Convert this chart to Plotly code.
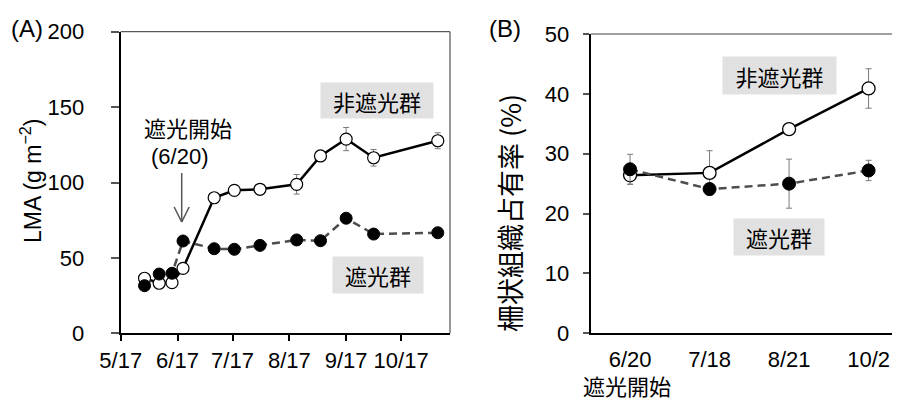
import plotly.graph_objects as go

# ---------- data ----------
# Panel A: LMA time course
dates_a = ["2016-05-30", "2016-06-07", "2016-06-14", "2016-06-20", "2016-07-07", "2016-07-18",
           "2016-08-01", "2016-08-21", "2016-09-03", "2016-09-17", "2016-10-02", "2016-11-06"]
lma_open = [36.5, 33.2, 33.6, 43.1, 89.9, 94.8, 95.5, 98.8, 117.6, 128.8, 116.4, 127.7]
lma_open_err = [1.5, 1.0, 1.0, 1.5, 1.5, 2.0, 3.0, 6.5, 1.5, 7.7, 5.5, 5.3]
lma_filled = [31.6, 39.3, 39.8, 61.2, 56.1, 55.7, 58.3, 61.9, 61.4, 76.3, 65.8, 66.7]
lma_filled_err = [1.0, 1.5, 1.5, 1.5, 1.5, 1.0, 1.5, 2.0, 1.5, 3.0, 1.5, 1.0]
ticks_a = ["2016-05-17", "2016-06-17", "2016-07-17", "2016-08-17", "2016-09-17", "2016-10-17"]
ticklabels_a = ["5/17", "6/17", "7/17", "8/17", "9/17", "10/17"]

# Panel B: palisade ratio
cats_b = ["6/20", "7/18", "8/21", "10/2"]
pal_open = [26.4, 26.8, 34.1, 40.9]
pal_open_err = [1.5, 3.7, 0.5, 3.3]
pal_filled = [27.4, 24.1, 25.0, 27.2]
pal_filled_err = [2.5, 0.9, 4.1, 1.7]

FONT = "Liberation Sans, Arial, Noto Sans CJK JP, sans-serif"
CJK = "Noto Sans CJK JP, Liberation Sans, sans-serif"
ERRC = "#7a7a7a"
TICK = 22

fig = go.Figure()

# Panel A traces
fig.add_trace(go.Scatter(
    x=dates_a, y=lma_open, mode="lines+markers", xaxis="x", yaxis="y",
    line=dict(color="black", width=2.5),
    marker=dict(symbol="circle", size=12, color="white", line=dict(color="black", width=1.2)),
    error_y=dict(type="data", array=lma_open_err, color=ERRC, thickness=1, width=3),
    showlegend=False))
fig.add_trace(go.Scatter(
    x=dates_a, y=lma_filled, mode="lines+markers", xaxis="x", yaxis="y",
    line=dict(color="#4d4d4d", width=2.5, dash="8px,5px"),
    marker=dict(symbol="circle", size=12, color="black", line=dict(color="black", width=1)),
    error_y=dict(type="data", array=lma_filled_err, color=ERRC, thickness=1, width=3),
    showlegend=False))

# Panel B traces
xb = list(range(len(cats_b)))
fig.add_trace(go.Scatter(
    x=xb, y=pal_open, mode="lines+markers", xaxis="x2", yaxis="y2",
    line=dict(color="black", width=2.5),
    marker=dict(symbol="circle", size=13, color="white", line=dict(color="black", width=1.3)),
    error_y=dict(type="data", array=pal_open_err, color=ERRC, thickness=1, width=3),
    showlegend=False))
fig.add_trace(go.Scatter(
    x=xb, y=pal_filled, mode="lines+markers", xaxis="x2", yaxis="y2",
    line=dict(color="#4d4d4d", width=2.5, dash="8px,5px"),
    marker=dict(symbol="circle", size=13, color="black", line=dict(color="black", width=1)),
    error_y=dict(type="data", array=pal_filled_err, color=ERRC, thickness=1, width=3),
    showlegend=False))

# page has an 8px body margin: figure spans window pixels 8..900 x 8..403
OFF = 8
W, H = 900 - OFF, 403 - OFF
def px(x):
    return (x - OFF) / W
def py(y):
    return 1 - (y - OFF) / H

fig.update_layout(
    template="none",
    width=W, height=H, margin=dict(l=0, r=0, t=0, b=0, autoexpand=False),
    paper_bgcolor="white", plot_bgcolor="white",
    font=dict(family=FONT, color="black", size=TICK),
    xaxis=dict(domain=[px(120.7), px(450)], type="date", automargin=False,
               range=["2016-05-17", "2016-11-12 16:00"],
               tickvals=ticks_a, ticktext=ticklabels_a,
               ticks="outside", ticklen=6, tickwidth=1.5, tickcolor="black",
               ticklabelstandoff=0,
               tickfont=dict(size=TICK),
               showline=True, linecolor="black", linewidth=2, showgrid=False, zeroline=False,
               anchor="y"),
    yaxis=dict(domain=[py(333.3), py(31.7)], range=[0, 200], tickvals=[0, 50, 100, 150, 200],
               automargin=False,
               ticks="outside", ticklen=8, tickwidth=1.5, tickcolor="#555555",
               ticklabelstandoff=22,
               tickfont=dict(size=TICK),
               showline=True, linecolor="black", linewidth=2, showgrid=False, zeroline=False,
               anchor="x"),
    xaxis2=dict(domain=[px(590.7), 1.0], range=[-0.495, 3.395], automargin=False,
                tickvals=xb, ticktext=cats_b, ticks="", ticklabelstandoff=5,
                tickfont=dict(size=TICK),
                showline=True, linecolor="black", linewidth=2, showgrid=False, zeroline=False,
                anchor="y2"),
    yaxis2=dict(domain=[py(333.3), py(34)], range=[0, 50], tickvals=[0, 10, 20, 30, 40, 50],
                automargin=False,
                ticks="outside", ticklen=6, tickwidth=1.5, tickcolor="#555555",
                ticklabelstandoff=9,
                tickfont=dict(size=TICK),
                showline=True, linecolor="black", linewidth=2, showgrid=False, zeroline=False,
                anchor="x2"),
)

shapes = [
    # panel A top & right frame
    dict(type="line", xref="paper", yref="paper", x0=px(120.7), x1=px(450), y0=py(31.7), y1=py(31.7),
         line=dict(color="#333333", width=1)),
    dict(type="line", xref="paper", yref="paper", x0=px(450), x1=px(450), y0=py(31.7), y1=py(333.3),
         line=dict(color="#333333", width=1)),
    # panel B top frame
    dict(type="line", xref="paper", yref="paper", x0=px(590.7), x1=1.0, y0=py(34), y1=py(34),
         line=dict(color="#808080", width=1.5)),
    # arrow
    dict(type="line", xref="paper", yref="paper", x0=px(181.7), x1=px(181.7), y0=py(173), y1=py(222),
         line=dict(color="#555555", width=1.5)),
    dict(type="line", xref="paper", yref="paper", x0=px(174.2), x1=px(181.7), y0=py(207), y1=py(222),
         line=dict(color="#555555", width=1.5)),
    dict(type="line", xref="paper", yref="paper", x0=px(189.2), x1=px(181.7), y0=py(207), y1=py(222),
         line=dict(color="#555555", width=1.5)),
]

BOX = "#e1e1e1"
ann = [
    dict(text="(A)", x=px(26.5), y=py(28.5), font=dict(size=24, family=FONT)),
    dict(text="(B)", x=px(505), y=py(28.5), font=dict(size=24, family=FONT)),
    dict(text="LMA (g m<sup>−2</sup>)", x=px(31), y=py(181), textangle=-90, font=dict(size=23, family=FONT)),
    dict(text="柵状組織占有率 (%)", x=px(509), y=py(213), textangle=-90, font=dict(size=27, family=CJK)),
    dict(text="遮光開始", x=px(188.3), y=py(126.7), font=dict(size=22, family=CJK)),
    dict(text="(6/20)", x=px(179.5), y=py(156.5), font=dict(size=22, family=FONT)),
    dict(text="遮光開始", x=px(626.7), y=py(385), font=dict(size=22, family=CJK)),
    dict(text="非遮光群", x=px(377), y=py(100.5), width=112, height=35, bgcolor=BOX,
         borderpad=0, font=dict(size=22, family=CJK)),
    dict(text="遮光群", x=px(378), y=py(275), width=90, height=36, bgcolor=BOX,
         borderpad=0, font=dict(size=22, family=CJK)),
    dict(text="非遮光群", x=px(779.3), y=py(75.7), width=113, height=37, bgcolor=BOX,
         borderpad=0, font=dict(size=22, family=CJK)),
    dict(text="遮光群", x=px(779), y=py(237), width=90, height=36, bgcolor=BOX,
         borderpad=0, font=dict(size=22, family=CJK)),
]
for a in ann:
    a.update(xref="paper", yref="paper", showarrow=False, xanchor="center", yanchor="middle")

fig.update_layout(shapes=shapes, annotations=ann)
fig.write_html("out.html")
